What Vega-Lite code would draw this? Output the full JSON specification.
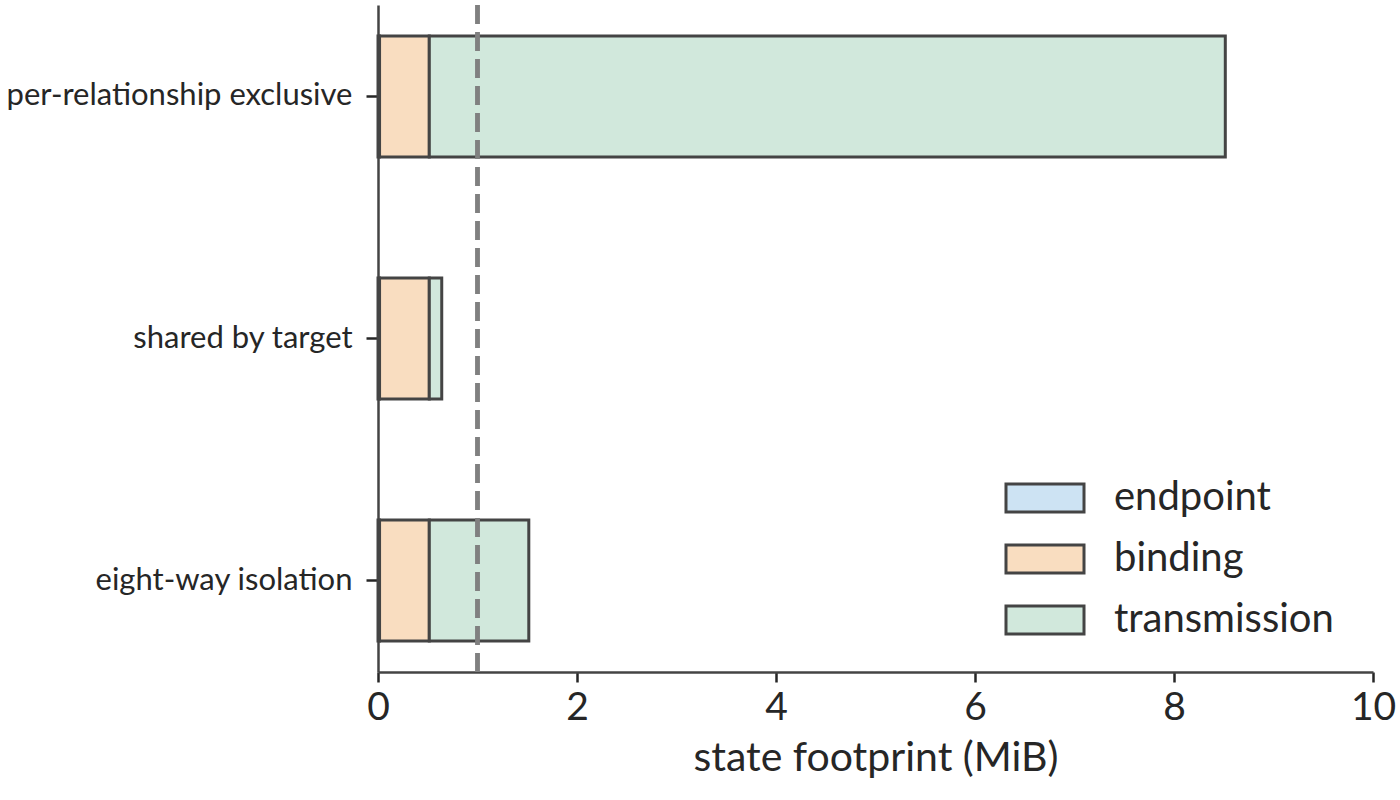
{
  "$schema": "https://vega.github.io/schema/vega-lite/v6.json",
  "width": 995,
  "height": 667,
  "autosize": "none",
  "padding": {"left": 378, "top": 5, "right": 27, "bottom": 128},
  "background": "white",
  "data": {
    "values": [
      {"config": "per-relationship exclusive", "part": "endpoint", "k": 0, "mib": 0.0156},
      {"config": "per-relationship exclusive", "part": "binding", "k": 1, "mib": 0.5},
      {"config": "per-relationship exclusive", "part": "transmission", "k": 2, "mib": 8.0},
      {"config": "shared by target", "part": "endpoint", "k": 0, "mib": 0.0156},
      {"config": "shared by target", "part": "binding", "k": 1, "mib": 0.5},
      {"config": "shared by target", "part": "transmission", "k": 2, "mib": 0.125},
      {"config": "eight-way isolation", "part": "endpoint", "k": 0, "mib": 0.0156},
      {"config": "eight-way isolation", "part": "binding", "k": 1, "mib": 0.5},
      {"config": "eight-way isolation", "part": "transmission", "k": 2, "mib": 1.0}
    ]
  },
  "layer": [
    {
      "mark": {"type": "bar", "stroke": "#444444", "strokeWidth": 3},
      "encoding": {
        "y": {
          "field": "config",
          "type": "nominal",
          "sort": ["per-relationship exclusive", "shared by target", "eight-way isolation"],
          "scale": {"paddingInner": 0.5, "paddingOuter": 0.128},
          "axis": {"title": null}
        },
        "x": {
          "field": "mib",
          "type": "quantitative",
          "stack": "zero",
          "scale": {"domain": [0, 10], "nice": false},
          "axis": {"title": "state footprint (MiB)", "values": [0, 2, 4, 6, 8, 10], "format": "d", "grid": false, "labelFlush": false}
        },
        "color": {
          "field": "part",
          "type": "nominal",
          "scale": {
            "domain": ["endpoint", "binding", "transmission"],
            "range": ["#cde3f3", "#f9ddc0", "#d1e8dc"]
          },
          "legend": {
            "title": null,
            "orient": "none",
            "legendX": 647,
            "legendY": 473,
            "padding": 0,
            "symbolType": "M-2.786,-1H2.786V1H-2.786Z",
            "symbolSize": 784,
            "symbolStrokeColor": "#444444",
            "symbolStrokeWidth": 3,
            "symbolOpacity": 1,
            "labelFont": "Lato",
            "labelFontSize": 40,
            "labelColor": "#262626",
            "labelOffset": 49,
            "labelLimit": 0,
            "rowPadding": 21
          }
        },
        "order": {"field": "k"}
      }
    },
    {
      "mark": {"type": "rule", "color": "#808080", "strokeWidth": 3.5, "strokeDash": [19, 8]},
      "encoding": {"x": {"datum": 1}}
    }
  ],
  "config": {
    "view": {"stroke": null},
    "font": "Lato",
    "axis": {
      "labelFont": "Lato",
      "titleFont": "Lato",
      "labelColor": "#262626",
      "titleColor": "#262626",
      "domainColor": "#444444",
      "domainWidth": 2.5,
      "tickColor": "#262626",
      "tickWidth": 2.5,
      "titleFontWeight": "normal",
      "labelLimit": 0
    },
    "axisX": {
      "labelFontSize": 39,
      "titleFontSize": 41,
      "tickSize": 10,
      "labelPadding": 6,
      "titlePadding": 11
    },
    "axisY": {
      "labelFontSize": 31,
      "tickSize": 12,
      "labelPadding": 14
    }
  }
}
